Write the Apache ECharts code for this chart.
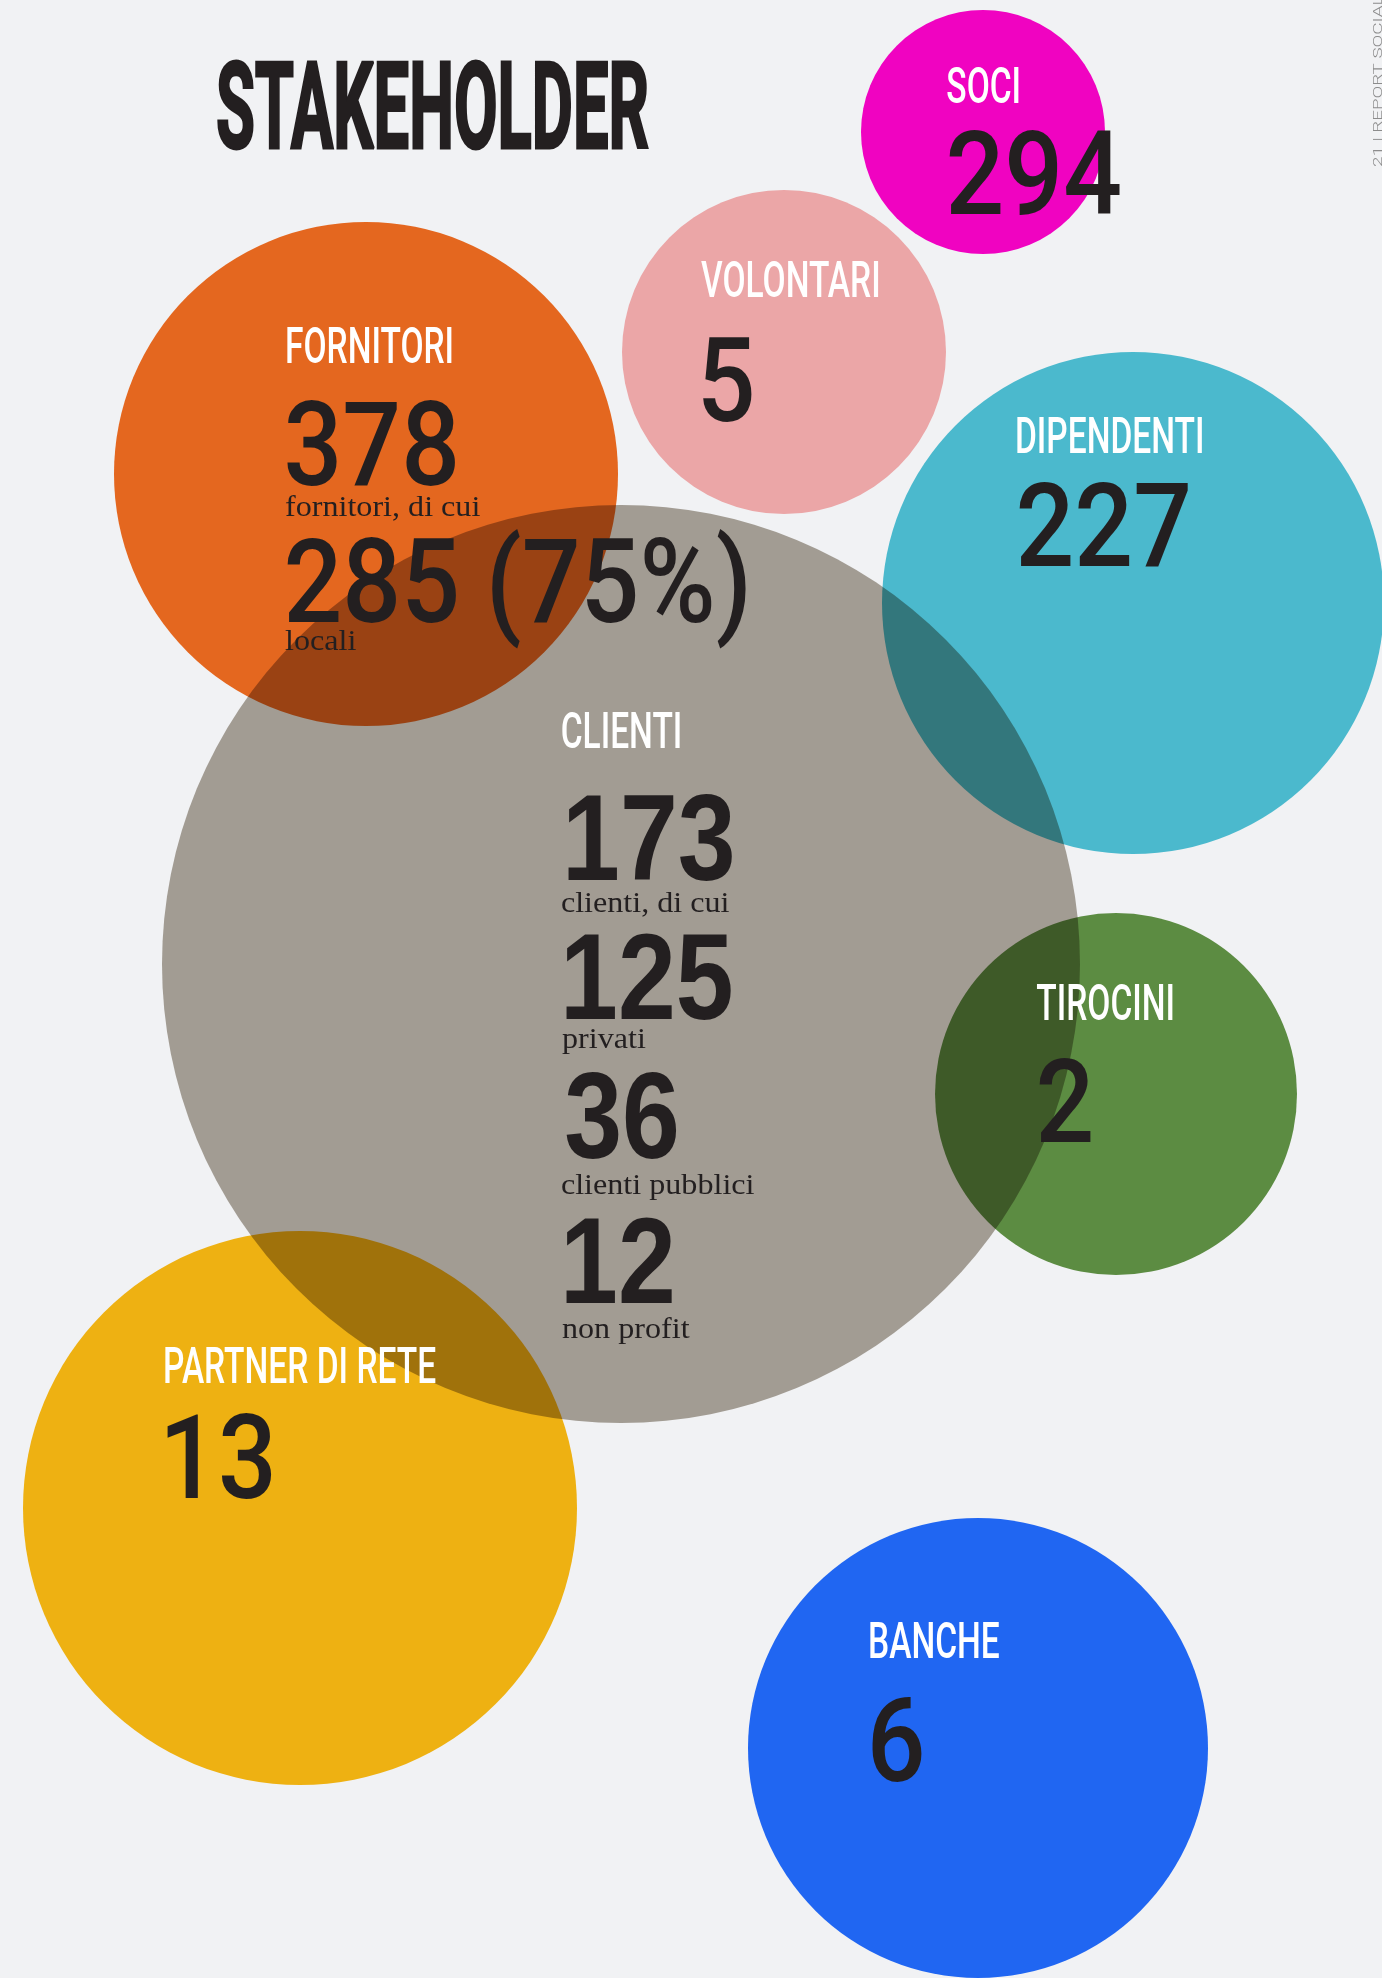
<!DOCTYPE html>
<html>
<head>
<meta charset="utf-8">
<title>Stakeholder</title>
<script src="https://cdn.jsdelivr.net/npm/echarts@6/dist/echarts.min.js"></script>
<style>
  html, body { margin: 0; padding: 0; background: #f1f2f4; }
  #chart { width: 1382px; height: 1978px; }
</style>
</head>
<body>
<div id="chart"></div>
<script>
// stakeholder totals
const names = ['SOCI', 'VOLONTARI', 'FORNITORI', 'DIPENDENTI', 'CLIENTI', 'TIROCINI', 'PARTNER DI RETE', 'BANCHE'];
const totals = [294, 5, 378, 227, 173, 2, 13, 6];

// breakdowns
const fornitoriLocali = 285;
const fornitoriLocaliPct = 75;
const clientiTipi = ['privati', 'clienti pubblici', 'non profit'];
const clientiValori = [125, 36, 12];

// bubble layout, page pixels (axes run 1:1 with the page)
const bubbleX = [983, 784, 366, 1133, 621, 1116, 300, 978];
const bubbleY = [132, 352, 474, 603, 964, 1094, 1508, 1748];
const bubbleR = [122, 162, 252, 251, 459, 181, 277, 230];
const bubbleColors = ['#f003c1', '#eba6a7', '#e4671f', '#4bb9cd', '#aca49a', '#5c8c42', '#eeb112', '#2066f2'];

// label anchors: left edge, heading baseline, number baseline
const labelX = [947, 701, 287, 1017, 562, 1037, 165, 870];
const headBase = [103, 297, 363, 453, 748, 1020, 1383, 1658];
const numBase = [214, 421, 485, 566, 880, 1142, 1498, 1781];

const dark = '#231f20';

// text styles, scaled horizontally to fit the condensed faces of the original
const mctx = document.createElement('canvas').getContext('2d');
function fontStr(st, size) { return st.weight + ' ' + size + 'px ' + st.family; }
function measure(text, font, baseline) {
  mctx.font = font;
  mctx.textBaseline = baseline || 'alphabetic';
  return mctx.measureText(text);
}
function prep(st) {
  if (!st.size) {
    const m = measure(st.sample, fontStr(st, 100));
    st.size = 100 * st.inkH / (m.actualBoundingBoxAscent + m.actualBoundingBoxDescent);
  }
  st.font = fontStr(st, st.size);
  const m2 = measure(st.sample, st.font);
  st.scaleX = st.inkW ? st.inkW / (m2.actualBoundingBoxLeft + m2.actualBoundingBoxRight) : (st.scaleX || 1);
  st.baseOff = measure('H', st.font, 'middle').actualBoundingBoxDescent;
  return st;
}

const sTitle = prep({ family: 'Roboto, "Liberation Sans", sans-serif', weight: 'bold', sample: 'STAKEHOLDER', inkW: 430, inkH: 89, color: dark, stroke: 3 });
const sHead = prep({ family: 'Roboto, "Liberation Sans", sans-serif', weight: '500', sample: 'FORNITORI', inkW: 165, inkH: 37, color: '#ffffff' });
const sNum = prep({ family: 'Roboto, "Liberation Sans", sans-serif', weight: '500', sample: '378', inkW: 168, inkH: 87, color: dark });
const sNumC = prep({ family: '"Liberation Sans", Arial, sans-serif', weight: 'bold', sample: '173', inkW: 164, inkH: 87, color: dark });
const sCap = prep({ family: '"Liberation Serif", "DejaVu Serif", serif', weight: 'normal', size: 30, sample: 'fornitori, di cui', inkW: 195, color: dark });
const sSide = prep({ family: 'Roboto, sans-serif', weight: '300', size: 13, sample: 'REPORT', scaleX: 1.45, color: '#8c8c8c' });

function txt(st, text, left, base) {
  const m = measure(text, st.font);
  const el = {
    type: 'text', z: 10, silent: true,
    x: left + m.actualBoundingBoxLeft * st.scaleX,
    y: base - st.baseOff,
    scaleX: st.scaleX,
    style: { text: text, x: 0, y: 0, font: st.font, fill: st.color, align: 'left', verticalAlign: 'middle' }
  };
  if (st.stroke) { el.style.stroke = st.color; el.style.lineWidth = st.stroke; }
  return el;
}

const texts = [txt(sTitle, 'STAKEHOLDER', 218, 148)];
names.forEach((n, i) => {
  texts.push(txt(sHead, n, labelX[i], headBase[i]));
  if (n === 'CLIENTI') {
    texts.push(txt(sNumC, String(totals[i]), 568, numBase[i]));
  } else if (n === 'FORNITORI') {
    texts.push(txt(sNum, String(totals[i]), labelX[i], numBase[i]));
  } else {
    texts.push(txt(sNum, String(totals[i]), labelX[i] + 2, numBase[i]));
  }
});

// fornitori breakdown
texts.push(txt(sCap, 'fornitori, di cui', 285, 516));
texts.push(txt(sNum, fornitoriLocali + ' (' + fornitoriLocaliPct + '%)', 287, 622));
texts.push(txt(sCap, 'locali', 285, 650));

// clienti breakdown
const clientiNumBase = [1019, 1158, 1303];
const clientiCapBase = [912, 1048, 1194, 1338];
texts.push(txt(sCap, 'clienti, di cui', 562, clientiCapBase[0]));
clientiValori.forEach((v, i) => {
  texts.push(txt(sNumC, String(v), 566, clientiNumBase[i]));
  texts.push(txt(sCap, clientiTipi[i], 562, clientiCapBase[i + 1]));
});

// running page header on the right edge
texts.push({
  type: 'text', z: 10, silent: true,
  x: 1382 - sSide.baseOff, y: 167, rotation: Math.PI / 2, scaleX: sSide.scaleX,
  style: { text: '21 | REPORT SOCIALE', x: 0, y: 0, font: sSide.font, fill: sSide.color, align: 'left', verticalAlign: 'middle' }
});

const points = names.map((n, i) => ({
  name: n,
  value: [bubbleX[i], bubbleY[i], totals[i]],
  symbolSize: bubbleR[i] * 2,
  itemStyle: { color: bubbleColors[i] }
}));

const chart = echarts.init(document.getElementById('chart'), null, { renderer: 'canvas' });
chart.setOption({
  backgroundColor: '#f1f2f4',
  animation: false,
  grid: { left: 0, right: 0, top: 0, bottom: 0 },
  xAxis: { type: 'value', min: 0, max: 1382, show: false },
  yAxis: { type: 'value', min: 0, max: 1978, inverse: true, show: false },
  series: [
    {
      type: 'scatter',
      silent: true,
      symbol: 'circle',
      data: points.filter(p => p.name !== 'CLIENTI'),
      itemStyle: { opacity: 1 }
    },
    {
      // the big grey bubble darkens what it covers
      type: 'scatter',
      silent: true,
      symbol: 'circle',
      z: 3,
      blendMode: 'multiply',
      data: points.filter(p => p.name === 'CLIENTI'),
      itemStyle: { opacity: 1 }
    }
  ],
  graphic: { elements: texts }
});
</script>
</body>
</html>
